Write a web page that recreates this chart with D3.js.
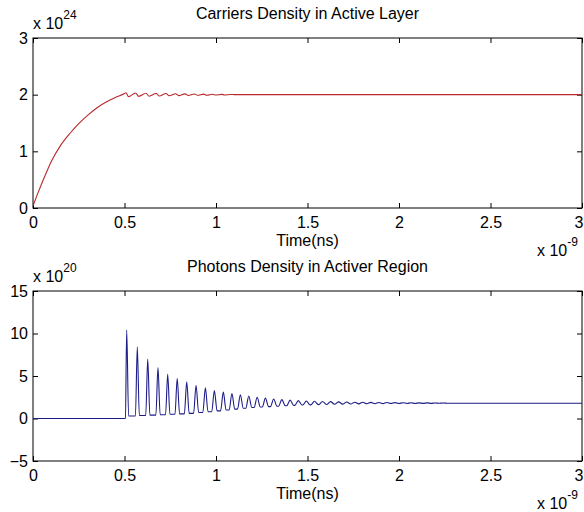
<!DOCTYPE html>
<html>
<head>
<meta charset="utf-8">
<script src="https://cdn.jsdelivr.net/npm/d3@7"></script>
<style>
  html, body { margin: 0; padding: 0; background: #fff; }
  svg { display: block; }
  text { font-family: "Liberation Sans", Arial, sans-serif; fill: #000; }
</style>
</head>
<body>
<svg id="chart" width="584" height="512"></svg>
<script>
// ---------- data ----------
const timeTicks = [0, 0.5, 1, 1.5, 2, 2.5, 3];
const timeTickLabels = ["0", "0.5", "1", "1.5", "2", "2.5", "3"];
const carrierTicks = [0, 1, 2, 3];
const photonTicks = [-5, 0, 5, 10, 15];

// Carriers density (x 1e24) vs time (ns)
const carrierT = [0, 0.025, 0.05, 0.075, 0.1, 0.15, 0.2, 0.25, 0.3, 0.35, 0.4, 0.45, 0.5,
  0.508, 0.522, 0.56, 0.578, 0.617, 0.635, 0.673, 0.69, 0.727, 0.744, 0.779, 0.796,
  0.831, 0.848, 0.882, 0.899, 0.933, 0.95, 0.982, 0.999, 1.031, 1.048, 1.08, 1.1, 3.0];
const carrierV = [0.04, 0.25, 0.45, 0.64, 0.82, 1.10, 1.31, 1.49, 1.64, 1.77, 1.87, 1.95, 2.02,
  2.035, 1.965, 2.03, 1.97, 2.025, 1.972, 2.022, 1.976, 2.02, 1.98, 2.017, 1.983,
  2.014, 1.986, 2.012, 1.989, 2.01, 1.991, 2.008, 1.993, 2.006, 1.995, 2.004, 2.0, 2.0];

// Photons density (x 1e20): relaxation-oscillation peaks and troughs
const photonPeakT = [0.512, 0.570, 0.627, 0.683, 0.736, 0.788, 0.840, 0.891, 0.942, 0.991, 1.040,
  1.087, 1.133, 1.179, 1.225, 1.270, 1.315, 1.360, 1.405, 1.450,
  1.494, 1.538, 1.582, 1.626, 1.670, 1.714, 1.758, 1.802,
  1.846, 1.890, 1.934, 1.978, 2.022, 2.066, 2.110, 2.154, 2.198, 2.242];
const photonPeakV = [10.4, 8.4, 7.0, 6.0, 5.2, 4.7, 4.3, 3.9, 3.6, 3.3, 3.1,
  2.95, 2.8, 2.65, 2.5, 2.4, 2.3, 2.22, 2.16, 2.1,
  2.06, 2.03, 2.0, 1.98, 1.96, 1.94, 1.92, 1.91, 1.9, 1.89,
  1.88, 1.87, 1.86, 1.85, 1.84, 1.84, 1.83, 1.82];
const photonTroughV = [0.3, 0.35, 0.4, 0.45, 0.5, 0.55, 0.6, 0.7, 0.8, 0.9, 1.0,
  1.1, 1.2, 1.3, 1.35, 1.4, 1.45, 1.5, 1.55, 1.58,
  1.6, 1.63, 1.65, 1.67, 1.69, 1.7, 1.72, 1.73, 1.74, 1.75,
  1.76, 1.76, 1.77, 1.77, 1.78, 1.78, 1.79, 1.8];
const photonOnsetT = 0.5;
const photonSteady = 1.8;

// ---------- layout ----------
const svg = d3.select("#chart");
svg.append("rect").attr("width", 584).attr("height", 512).attr("fill", "#fff");

const X0 = 33, X1 = 582;
const FONT = '"Liberation Sans", Arial, sans-serif';
const panels = [
  { top: 38, bottom: 208, domain: [0, 3], ticks: carrierTicks, title: "Carriers Density in Active Layer",
    exp: "24", color: "#b8282d", id: "c1" },
  { top: 291, bottom: 461, domain: [-5, 15], ticks: photonTicks, title: "Photons Density in Activer Region",
    exp: "20", color: "#1c1c88", id: "c2" }
];

const x = d3.scaleLinear().domain([0, 3]).range([X0, X1]);

function drawPanel(p) {
  const y = d3.scaleLinear().domain(p.domain).range([p.bottom, p.top]);
  const g = svg.append("g");

  g.append("clipPath").attr("id", p.id).append("rect")
    .attr("x", X0).attr("y", p.top).attr("width", X1 - X0).attr("height", p.bottom - p.top);

  const axB = d3.axisBottom(x).tickValues(timeTicks).tickFormat((d, i) => timeTickLabels[i])
    .tickSizeInner(-5).tickSizeOuter(0).tickPadding(9);
  const gb = g.append("g").attr("transform", `translate(0,${p.bottom})`).call(axB);
  const axT = d3.axisTop(x).tickValues(timeTicks).tickFormat("").tickSizeInner(-5).tickSizeOuter(0);
  const gt = g.append("g").attr("transform", `translate(0,${p.top})`).call(axT);
  const axL = d3.axisLeft(y).tickValues(p.ticks).tickFormat(d3.format("d"))
    .tickSizeInner(-5).tickSizeOuter(0).tickPadding(5);
  const gl = g.append("g").attr("transform", `translate(${X0},0)`).call(axL);
  const axR = d3.axisRight(y).tickValues(p.ticks).tickFormat("").tickSizeInner(-5).tickSizeOuter(0);
  const gr = g.append("g").attr("transform", `translate(${X1},0)`).call(axR);

  [gb, gt, gl, gr].forEach(a => {
    a.select(".domain").remove();
    a.selectAll("line").attr("stroke", "#000").attr("stroke-width", 1);
    a.selectAll("text").style("font-family", FONT).style("font-size", "16px").attr("fill", "#000");
  });
  // keep the last tick label ("3") inside the picture
  gb.selectAll(".tick text").filter(d => d === 3).attr("text-anchor", "end").attr("dx", "0.05em");

  g.append("rect").attr("x", X0).attr("y", p.top).attr("width", X1 - X0).attr("height", p.bottom - p.top)
    .attr("fill", "none").attr("stroke", "#000").attr("stroke-width", 1);

  g.append("text").attr("x", (X0 + X1) / 2).attr("y", p.top - 19).attr("text-anchor", "middle")
    .style("font-size", "16px").text(p.title);

  const ey = g.append("text").attr("x", X0).attr("y", p.top - 9).style("font-size", "16px");
  ey.append("tspan").text("x 10");
  ey.append("tspan").attr("dy", -10).style("font-size", "12px").text(p.exp);

  g.append("text").attr("x", (X0 + X1) / 2).attr("y", p.bottom + 38).attr("text-anchor", "middle")
    .style("font-size", "16px").text("Time(ns)");

  const ex = g.append("text").attr("x", 537).attr("y", p.bottom + 48).style("font-size", "16px");
  ex.append("tspan").text("x 10");
  ex.append("tspan").attr("dy", -10).style("font-size", "12px").text("-9");

  return { g, y };
}

// top panel
{
  const { g, y } = drawPanel(panels[0]);
  const pts = carrierT.map((t, i) => [t, carrierV[i]]);
  const line = d3.line().x(d => x(d[0])).y(d => y(d[1])).curve(d3.curveMonotoneX);
  g.append("path").attr("d", line(pts)).attr("fill", "none").attr("stroke", panels[0].color)
    .attr("stroke-width", 1.1).attr("clip-path", "url(#c1)");
}

// bottom panel
{
  const { g, y } = drawPanel(panels[1]);
  const pts = [[0, 0], [photonOnsetT, 0]];
  const n = photonPeakT.length;
  for (let i = 0; i < n; i++) {
    const tp = photonPeakT[i];
    const tn = i < n - 1 ? photonPeakT[i + 1] : tp + 0.044;
    const period = tn - tp;
    const f = Math.min(0.5, 0.18 + 0.014 * i);
    if (i === 0) pts.push([tp - 0.007, 0.05]);
    pts.push([tp, photonPeakV[i]]);
    if (f < 0.5) {
      pts.push([tp + f * period, photonTroughV[i]]);
      if (i < n - 1) pts.push([tn - f * period, photonTroughV[i]]);
    } else {
      pts.push([tp + 0.5 * period, photonTroughV[i]]);
    }
  }
  pts.push([photonPeakT[n - 1] + 0.044, photonSteady]);
  pts.push([3.0, photonSteady]);
  const line = d3.line().x(d => x(d[0])).y(d => y(d[1])).curve(d3.curveMonotoneX);
  g.append("path").attr("d", line(pts)).attr("fill", "none").attr("stroke", panels[1].color)
    .attr("stroke-width", 1.1).attr("clip-path", "url(#c2)");
}
</script>
</body>
</html>
